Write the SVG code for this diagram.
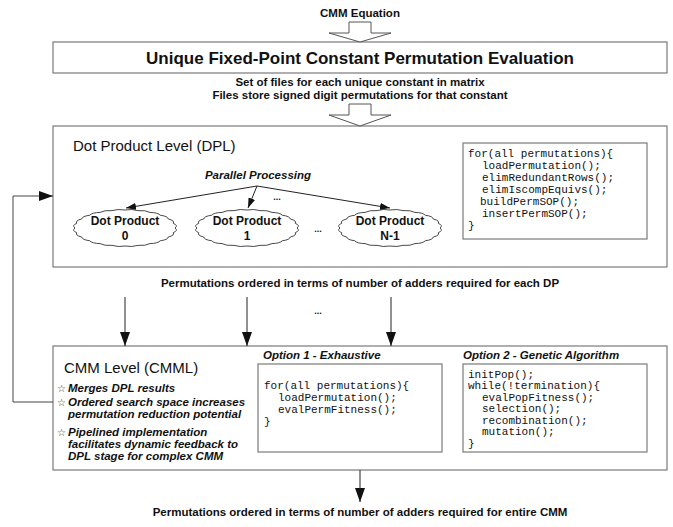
<svg xmlns="http://www.w3.org/2000/svg" width="673" height="527" viewBox="0 0 673 527">
<style>
.box{fill:#fff;stroke:#7a7a7a;stroke-width:1.2}
.hol{fill:#fff;stroke:#555;stroke-width:1}
.ln{fill:none;stroke:#222;stroke-width:1}
.ttl{font-family:"Liberation Sans",Arial,sans-serif;font-size:15px;fill:#111}
.big{font-family:"Liberation Sans",Arial,sans-serif;font-size:17px;font-weight:bold;fill:#111}
.lbl{font-family:"Liberation Sans",Arial,sans-serif;font-size:11.5px;font-weight:bold;fill:#111}
.dots{font-family:"Liberation Sans",Arial,sans-serif;font-size:9px;font-weight:bold;fill:#111}
.bi{font-family:"Liberation Sans",Arial,sans-serif;font-size:11.5px;font-weight:bold;font-style:italic;fill:#111}
.cl{font-family:"Liberation Sans",Arial,sans-serif;font-size:12px;font-weight:bold;fill:#111}
.code{font-family:"Liberation Mono","Courier New",monospace;font-size:11px;fill:#111}
.star{font-family:"DejaVu Sans",sans-serif;font-size:10px;fill:#333}
.cloud{fill:#fff;stroke:#333;stroke-width:0.9}
</style>
<defs>
<marker id="sm" viewBox="0 0 10 7" refX="10" refY="3.5" markerWidth="10" markerHeight="7" markerUnits="userSpaceOnUse" orient="auto"><path d="M0,0 L10,3.5 L0,7 z" fill="#111"/></marker>
<marker id="lg" viewBox="0 0 14 10" refX="14" refY="5" markerWidth="14" markerHeight="10" markerUnits="userSpaceOnUse" orient="auto"><path d="M0,0 L14,5 L0,10 z" fill="#111"/></marker>
<path id="cloudShape" class="cloud" d="M50,0 Q53.54,2.54 48.30,4.66 Q49.89,7.44 43.30,9.00 Q42.84,11.83 35.36,12.73 Q32.88,15.42 25.00,15.59 Q20.67,17.96 12.94,17.39 Q7.05,19.27 0,18 Q-7.05,19.27 -12.94,17.39 Q-20.67,17.96 -25.00,15.59 Q-32.88,15.42 -35.36,12.73 Q-42.84,11.83 -43.30,9.00 Q-49.89,7.44 -48.30,4.66 Q-53.54,2.54 -50,0 Q-53.54,-2.54 -48.30,-4.66 Q-49.89,-7.44 -43.30,-9.00 Q-42.84,-11.83 -35.36,-12.73 Q-32.88,-15.42 -25.00,-15.59 Q-20.67,-17.96 -12.94,-17.39 Q-7.05,-19.27 0,-18 Q7.05,-19.27 12.94,-17.39 Q20.67,-17.96 25.00,-15.59 Q32.88,-15.42 35.36,-12.73 Q42.84,-11.83 43.30,-9.00 Q49.89,-7.44 48.30,-4.66 Q53.54,-2.54 50,0 Z"/>
</defs>

<g id="input">
<text class="lbl" x="360" y="17" text-anchor="middle">CMM Equation</text>
</g>

<g id="eval-box">
<rect class="box" x="53" y="42" width="614" height="31"/>
<text class="big" x="360" y="63.5" text-anchor="middle">Unique Fixed-Point Constant Permutation Evaluation</text>
</g>

<g id="files-label">
<text class="lbl" x="360" y="86" text-anchor="middle">Set of files for each unique constant in matrix</text>
<text class="lbl" x="360" y="99" text-anchor="middle">Files store signed digit permutations for that constant</text>
</g>

<g id="dpl">
<rect class="box" x="53" y="126" width="614" height="141"/>
<text class="ttl" x="73" y="151">Dot Product Level (DPL)</text>
<text class="bi" x="258" y="179" text-anchor="middle">Parallel Processing</text>
<text class="dots" x="277" y="200" text-anchor="middle">...</text>
<text class="dots" x="318" y="232" text-anchor="middle">...</text>
</g>

<g id="dp0">
<use href="#cloudShape" x="125" y="228"/>
<text class="cl" x="125" y="225" text-anchor="middle">Dot Product</text>
<text class="cl" x="125" y="240" text-anchor="middle">0</text>
</g>
<g id="dp1">
<use href="#cloudShape" x="247" y="228"/>
<text class="cl" x="247" y="225" text-anchor="middle">Dot Product</text>
<text class="cl" x="247" y="240" text-anchor="middle">1</text>
</g>
<g id="dpN">
<use href="#cloudShape" x="390" y="228"/>
<text class="cl" x="390" y="225" text-anchor="middle">Dot Product</text>
<text class="cl" x="390" y="240" text-anchor="middle">N-1</text>
</g>

<g id="dpl-code">
<rect class="box" x="463" y="143" width="184" height="96"/>
<text class="code" x="468" y="157">for(all permutations){</text>
<text class="code" x="482" y="169">loadPermutation();</text>
<text class="code" x="482" y="181">elimRedundantRows();</text>
<text class="code" x="482" y="193">elimIscompEquivs();</text>
<text class="code" x="480" y="205">buildPermSOP();</text>
<text class="code" x="482" y="217">insertPermSOP();</text>
<text class="code" x="468" y="229">}</text>
</g>

<g id="dp-label">
<text class="lbl" x="360" y="287" text-anchor="middle">Permutations ordered in terms of number of adders required for each DP</text>
<text class="dots" x="318" y="314" text-anchor="middle">...</text>
</g>

<g id="cmml">
<rect class="box" x="53" y="346" width="614" height="124"/>
<text class="ttl" x="64" y="373">CMM Level (CMML)</text>
<text class="star" x="57" y="392">☆</text>
<text class="bi" x="68" y="392">Merges DPL results</text>
<text class="star" x="57" y="406">☆</text>
<text class="bi" x="68" y="406">Ordered search space increases</text>
<text class="bi" x="68" y="418">permutation reduction potential</text>
<text class="star" x="57" y="436">☆</text>
<text class="bi" x="68" y="436">Pipelined implementation</text>
<text class="bi" x="68" y="448">facilitates dynamic feedback to</text>
<text class="bi" x="68" y="460">DPL stage for complex CMM</text>
</g>

<g id="option1">
<text class="bi" x="263" y="359">Option 1 - Exhaustive</text>
<rect class="box" x="258" y="364" width="184" height="88"/>
<text class="code" x="264" y="389">for(all permutations){</text>
<text class="code" x="278" y="401">loadPermutation();</text>
<text class="code" x="278" y="413">evalPermFitness();</text>
<text class="code" x="264" y="425">}</text>
</g>

<g id="option2">
<text class="bi" x="463" y="359">Option 2 - Genetic Algorithm</text>
<rect class="box" x="463" y="364" width="184" height="88"/>
<text class="code" x="468" y="377.5">initPop();</text>
<text class="code" x="468" y="389">while(!termination){</text>
<text class="code" x="482" y="400.5">evalPopFitness();</text>
<text class="code" x="482" y="412">selection();</text>
<text class="code" x="482" y="423.5">recombination();</text>
<text class="code" x="482" y="435">mutation();</text>
<text class="code" x="468" y="446.5">}</text>
</g>

<g id="output">
<text class="lbl" x="360" y="516" text-anchor="middle">Permutations ordered in terms of number of adders required for entire CMM</text>
</g>

<g id="connectors">
<polygon class="hol" points="349,22 371,22 371,33 391,33 360,42 329,33 349,33"/>
<polygon class="hol" points="349,104 371,104 371,115 391,115 360,126 329,115 349,115"/>
<line class="ln" x1="257" y1="186" x2="126" y2="208" marker-end="url(#sm)"/>
<line class="ln" x1="257" y1="186" x2="248" y2="208" marker-end="url(#sm)"/>
<line class="ln" x1="257" y1="186" x2="390" y2="208" marker-end="url(#sm)"/>
<line class="ln" x1="125" y1="297" x2="125" y2="346" marker-end="url(#lg)"/>
<line class="ln" x1="247" y1="297" x2="247" y2="346" marker-end="url(#lg)"/>
<line class="ln" x1="391" y1="297" x2="391" y2="346" marker-end="url(#lg)"/>
<line class="ln" x1="360" y1="470" x2="360" y2="502" marker-end="url(#lg)"/>
<polyline class="ln" style="stroke:#444" points="53,402 13,402 13,196 53,196" marker-end="url(#lg)"/>
</g>
</svg>
